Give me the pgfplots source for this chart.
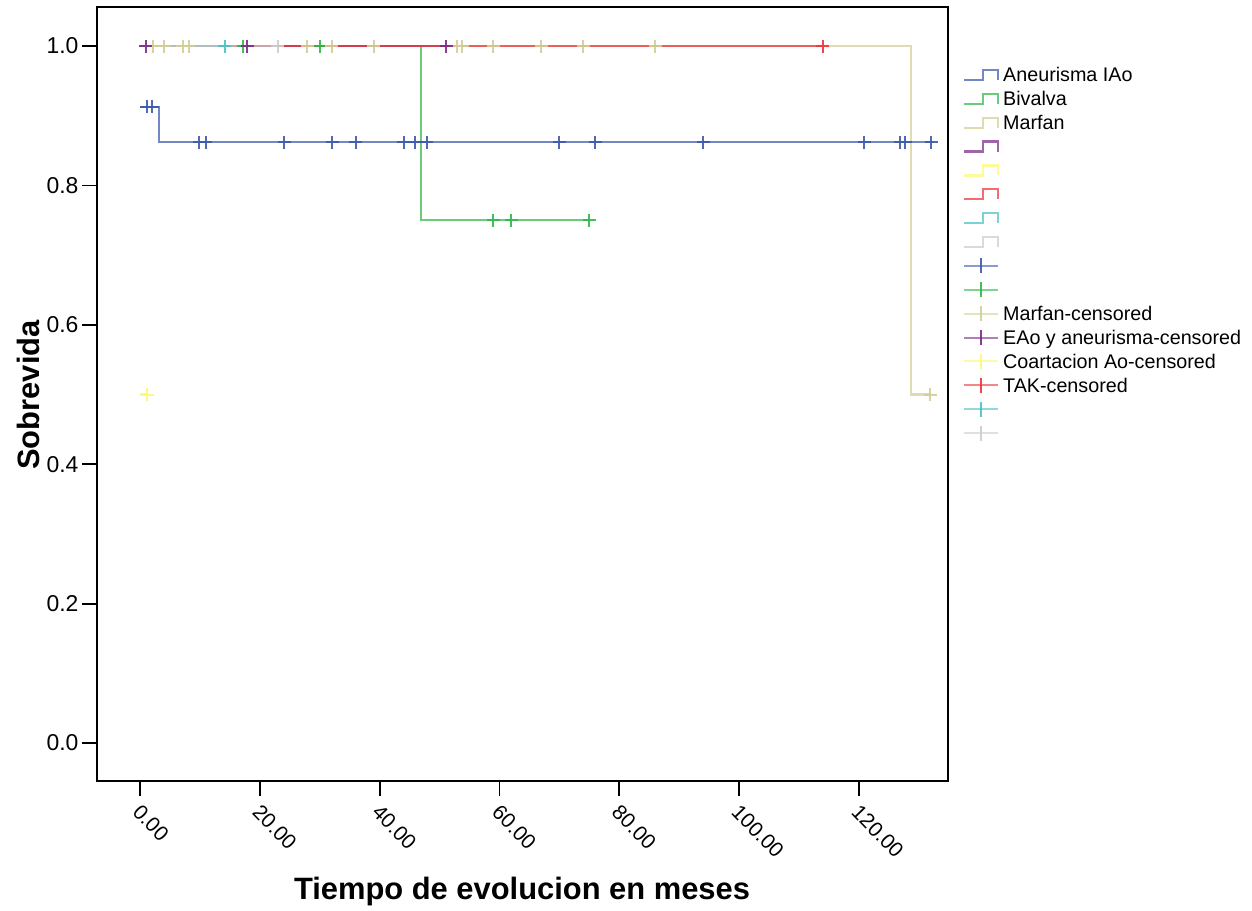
\documentclass[border=0pt]{standalone}
\usepackage{fontspec}
\setmainfont{Liberation Sans}
\usepackage{pgfplots}
\pgfplotsset{compat=1.18}

% SPSS-style group colours
\definecolor{cBlue}{RGB}{62,88,172}
\definecolor{cGreen}{RGB}{46,184,72}
\definecolor{cTan}{RGB}{211,206,151}
\definecolor{cPurple}{RGB}{124,40,136}
\definecolor{cYellow}{RGB}{251,248,115}
\definecolor{cRed}{RGB}{239,51,56}
\definecolor{cCyan}{RGB}{72,194,197}
\definecolor{cGray}{RGB}{204,204,204}

\pgfplotsset{
  kmline/.style={const plot, line width=2.3bp, opacity=0.72, forget plot},
  kmcens/.style={only marks, mark=+, mark size=6.5bp, line width=2bp, opacity=0.9, forget plot},
  stepleg/.style={legend image code/.code={%
    \draw[line width=2.2bp, opacity=0.72, ##1] (0bp,-2.7bp) -- (19bp,-2.7bp) -- (19bp,7.3bp) -- (34bp,7.3bp) -- (34bp,-2.7bp);}},
  censleg/.style={legend image code/.code={%
    \draw[line width=2bp, opacity=0.6, ##1] (0bp,2.3bp) -- (34bp,2.3bp);
    \draw[line width=2bp, opacity=0.9, ##1] (17bp,-5.2bp) -- (17bp,9.8bp);}},
}

\begin{document}
\begin{tikzpicture}[x=1bp,y=1bp]
\useasboundingbox (0,0) rectangle (1252,911);
\begin{axis}[
  at={(97bp,130bp)}, anchor=south west,
  scale only axis, width=851bp, height=774bp,
  xmin=-7.2, xmax=134.9, ymin=-0.0545, ymax=1.056,
  xtick={0,20,40,60,80,100,120},
  ytick={0,0.2,0.4,0.6,0.8,1},
  xtick pos=bottom, ytick pos=left,
  tick align=outside, major tick length=15bp,
  tick style={line width=1.8bp, black},
  axis line style={line width=1.8bp, black},
  xticklabel style={font=\fontsize{21}{25}\selectfont, rotate=-46, anchor=north west, xshift=3bp},
  x tick label style={/pgf/number format/fixed, /pgf/number format/fixed zerofill,
    /pgf/number format/precision=2, /pgf/number format/assume math mode=true},
  yticklabel style={font=\fontsize{23}{27}\selectfont},
  y tick label style={/pgf/number format/fixed, /pgf/number format/fixed zerofill,
    /pgf/number format/precision=1, /pgf/number format/assume math mode=true},
  xlabel={Tiempo de evolucion en meses},
  xlabel style={at={(axis description cs:0.4994,-0.1434)}, anchor=center,
    font=\fontsize{31}{36}\selectfont\bfseries},
  ylabel={Sobrevida},
  ylabel style={at={(axis description cs:-0.0811,0.4987)}, anchor=center,
    font=\fontsize{31}{36}\selectfont\bfseries},
  legend style={at={(axis description cs:1.0176,0.9234)}, anchor=north west,
    draw=none, fill=none, inner sep=0pt, outer sep=0pt,
    row sep=1.87bp, font=\fontsize{19.8}{23}\selectfont,
    nodes={inner xsep=4bp, inner ysep=0pt, text height=15.5bp, text depth=6.5bp},
    cells={anchor=west}},
  legend cell align=left,
]

% survival step curves
\addplot[kmline, cBlue]   coordinates {(0,0.913) (3.2,0.862) (132.6,0.862)};
\addplot[kmline, cGreen]  coordinates {(0,1) (46.9,0.75) (75.1,0.75)};
\addplot[kmline, cTan]    coordinates {(0,1) (128.7,0.5) (132.1,0.5)};
\addplot[kmline, cPurple] coordinates {(0,1) (51.1,1)};
\addplot[kmline, cYellow] coordinates {(0,0.5) (1.2,0.5)};
\addplot[kmline, cRed]    coordinates {(0,1) (114.0,1)};
\addplot[kmline, cCyan]   coordinates {(0,1) (14.1,1)};
\addplot[kmline, cGray]   coordinates {(0,1) (23.0,1)};

% censored observations
\addplot[kmcens, cBlue] coordinates {
  (1.1,0.913) (2.0,0.913)
  (9.9,0.862) (11.0,0.862) (24.1,0.862) (32.1,0.862) (36.0,0.862)
  (44.0,0.862) (45.9,0.862) (47.9,0.862) (70.0,0.862) (76.0,0.862)
  (94.0,0.862) (120.9,0.862) (126.9,0.862) (127.8,0.862) (132.1,0.862)};
\addplot[kmcens, cGreen] coordinates {
  (17.2,1) (30.0,1) (59.0,0.75) (62.0,0.75) (75.0,0.75)};
\addplot[kmcens, cTan] coordinates {
  (2.1,1) (4.0,1) (7.1,1) (8.1,1) (27.9,1) (32.0,1) (39.0,1)
  (52.9,1) (53.8,1) (59.0,1) (67.0,1) (74.0,1) (86.0,1) (131.9,0.5)};
\addplot[kmcens, cPurple] coordinates {(0.9,1) (17.9,1) (51.1,1)};
\addplot[kmcens, cYellow] coordinates {(1.2,0.5)};
\addplot[kmcens, cRed]    coordinates {(114.0,1)};
\addplot[kmcens, cCyan]   coordinates {(14.1,1)};
\addplot[kmcens, cGray]   coordinates {(23.0,1)};

% legend
\addlegendimage{stepleg, cBlue}   \addlegendentry{Aneurisma IAo}
\addlegendimage{stepleg, cGreen}  \addlegendentry{Bivalva}
\addlegendimage{stepleg, cTan}    \addlegendentry{Marfan}
\addlegendimage{stepleg, cPurple} \addlegendentry{\mbox{}}
\addlegendimage{stepleg, cYellow} \addlegendentry{\mbox{}}
\addlegendimage{stepleg, cRed}    \addlegendentry{\mbox{}}
\addlegendimage{stepleg, cCyan}   \addlegendentry{\mbox{}}
\addlegendimage{stepleg, cGray}   \addlegendentry{\mbox{}}
\addlegendimage{censleg, cBlue}   \addlegendentry{\mbox{}}
\addlegendimage{censleg, cGreen}  \addlegendentry{\mbox{}}
\addlegendimage{censleg, cTan}    \addlegendentry{Marfan-censored}
\addlegendimage{censleg, cPurple} \addlegendentry{EAo y aneurisma-censored}
\addlegendimage{censleg, cYellow} \addlegendentry{Coartacion Ao-censored}
\addlegendimage{censleg, cRed}    \addlegendentry{TAK-censored}
\addlegendimage{censleg, cCyan}   \addlegendentry{\mbox{}}
\addlegendimage{censleg, cGray}   \addlegendentry{\mbox{}}
\end{axis}
\end{tikzpicture}
\end{document}
